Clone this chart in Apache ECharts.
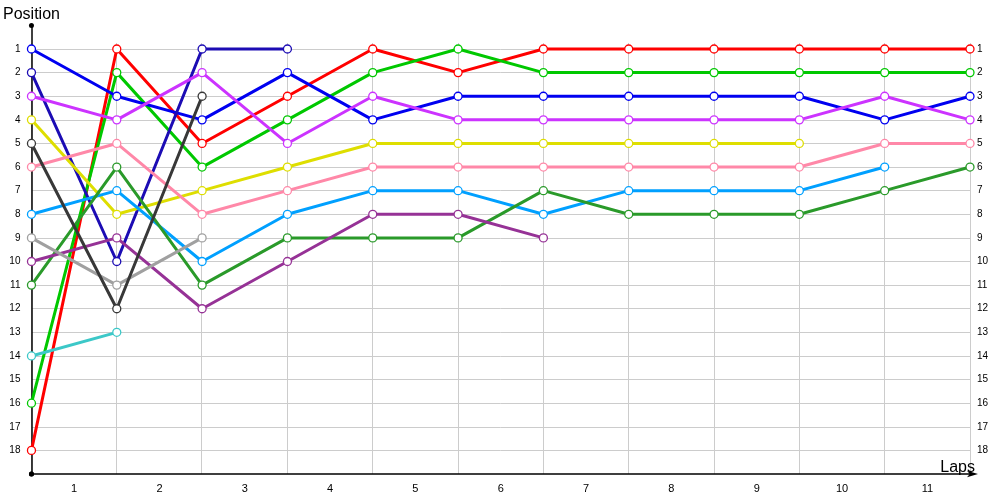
<!DOCTYPE html>
<html>
<head>
<meta charset="utf-8">
<script src="https://cdn.jsdelivr.net/npm/echarts@6/dist/echarts.min.js"></script>
<style>html,body{margin:0;padding:0;background:#fff}#chart{width:1000px;height:500px}</style>
</head>
<body>
<div id="chart"></div>
<script>
// Lap points (grid lines) and lap labels (between grid lines)
const lapPoints = ['0','1','2','3','4','5','6','7','8','9','10','11'];
const lapLabels = ['1','2','3','4','5','6','7','8','9','10','11'];
const positionTicks = [1,2,3,4,5,6,7,8,9,10,11,12,13,14,15,16,17,18];

// Positions per lap point, one array per car
const redCar       = [18, 1, 5, 3, 1, 2, 1, 1, 1, 1, 1, 1];
const greenCar     = [16, 2, 6, 4, 2, 1, 2, 2, 2, 2, 2, 2];
const blueCar      = [1, 3, 4, 2, 4, 3, 3, 3, 3, 3, 4, 3];
const navyCar      = [2, 10, 1, 1];
const violetCar    = [3, 4, 2, 5, 3, 4, 4, 4, 4, 4, 3, 4];
const yellowCar    = [4, 8, 7, 6, 5, 5, 5, 5, 5, 5];
const pinkCar      = [6, 5, 8, 7, 6, 6, 6, 6, 6, 6, 5, 5];
const skyCar       = [8, 7, 10, 8, 7, 7, 8, 7, 7, 7, 6];
const forestCar    = [11, 6, 11, 9, 9, 9, 7, 8, 8, 8, 7, 6];
const purpleCar    = [10, 9, 12, 10, 8, 8, 9];
const grayCar      = [9, 11, 9];
const darkCar      = [5, 12, 3];
const turquoiseCar = [14, 13];

const seriesDefs = [
  ['Car A', redCar, '#ff0000'],
  ['Car B', greenCar, '#00c800'],
  ['Car C', blueCar, '#0000f0'],
  ['Car D', navyCar, '#1c0cb4'],
  ['Car E', violetCar, '#cc33ff'],
  ['Car F', yellowCar, '#dede00'],
  ['Car G', pinkCar, '#ff88a8'],
  ['Car H', skyCar, '#00a0ff'],
  ['Car I', forestCar, '#2a9a2a'],
  ['Car J', purpleCar, '#963296'],
  ['Car K', grayCar, '#a0a0a0'],
  ['Car L', darkCar, '#383838'],
  ['Car M', turquoiseCar, '#3cc8c8']
];

const chart = echarts.init(document.getElementById('chart'), null, {renderer: 'canvas'});
const labelFont = {fontFamily: 'Liberation Sans', fontSize: 10, color: '#000'};

chart.setOption({
  animation: false,
  backgroundColor: '#fff',
  grid: [
    {left: 31, right: 30, top: 25.4, bottom: 26},
    {left: 31, right: 30, top: 43, bottom: 26}
  ],
  xAxis: [
    {
      type: 'category', gridIndex: 0, data: lapPoints, boundaryGap: false, position: 'bottom',
      axisLine: {show: true, onZero: false, lineStyle: {color: '#000', width: 1.5},
        symbol: ['circle', 'arrow'], symbolSize: [5, 11], symbolOffset: [0, 8]},
      axisTick: {show: false}, axisLabel: {show: false}, splitLine: {show: false},
      name: 'Laps', nameLocation: 'end', nameGap: 5,
      nameTextStyle: {fontFamily: 'Liberation Sans', fontSize: 16, color: '#000',
        align: 'right', verticalAlign: 'bottom', lineHeight: 12}
    },
    {
      type: 'category', gridIndex: 0, data: lapLabels, boundaryGap: true, position: 'bottom',
      axisLine: {show: false, onZero: false}, axisTick: {show: false},
      axisLabel: {show: true, margin: 9, fontFamily: 'Liberation Sans', fontSize: 11, color: '#000'},
      splitLine: {show: false}
    },
    {
      type: 'category', gridIndex: 1, data: lapPoints, boundaryGap: false,
      axisLine: {show: false}, axisTick: {show: false}, axisLabel: {show: false},
      splitLine: {show: true, lineStyle: {color: '#cccccc', width: 1}}
    }
  ],
  yAxis: [
    {
      type: 'value', gridIndex: 0, min: 0, max: 19, interval: 1, inverse: true, position: 'left',
      axisLine: {show: true, onZero: false, lineStyle: {color: '#000', width: 1.5},
        symbol: ['circle', 'circle'], symbolSize: [5, 5]},
      axisTick: {show: false},
      axisLabel: {show: true, margin: 11, ...labelFont,
        formatter: v => positionTicks.indexOf(v) >= 0 ? String(v) : ''},
      splitLine: {show: true, showMinLine: false, showMaxLine: false,
        lineStyle: {color: '#cccccc', width: 1}},
      name: 'Position', nameLocation: 'start', nameGap: 3,
      nameTextStyle: {fontFamily: 'Liberation Sans', fontSize: 16, color: '#000'}
    },
    {
      type: 'value', gridIndex: 0, min: 0, max: 19, interval: 1, inverse: true, position: 'right',
      axisLine: {show: false, onZero: false}, axisTick: {show: false}, splitLine: {show: false},
      axisLabel: {show: true, margin: 7, ...labelFont,
        formatter: v => positionTicks.indexOf(v) >= 0 ? String(v) : ''}
    },
    {
      type: 'value', gridIndex: 1, min: 0, max: 1, show: false
    }
  ],
  series: seriesDefs.map(([name, data, color]) => ({
    name: name, type: 'line', xAxisIndex: 0, yAxisIndex: 0, data: data,
    symbol: 'circle', symbolSize: 8, showAllSymbol: true,
    lineStyle: {color: color, width: 3},
    itemStyle: {color: '#fff', borderColor: color, borderWidth: 1.3},
    emphasis: {disabled: true}
  }))
});
</script>
</body>
</html>
